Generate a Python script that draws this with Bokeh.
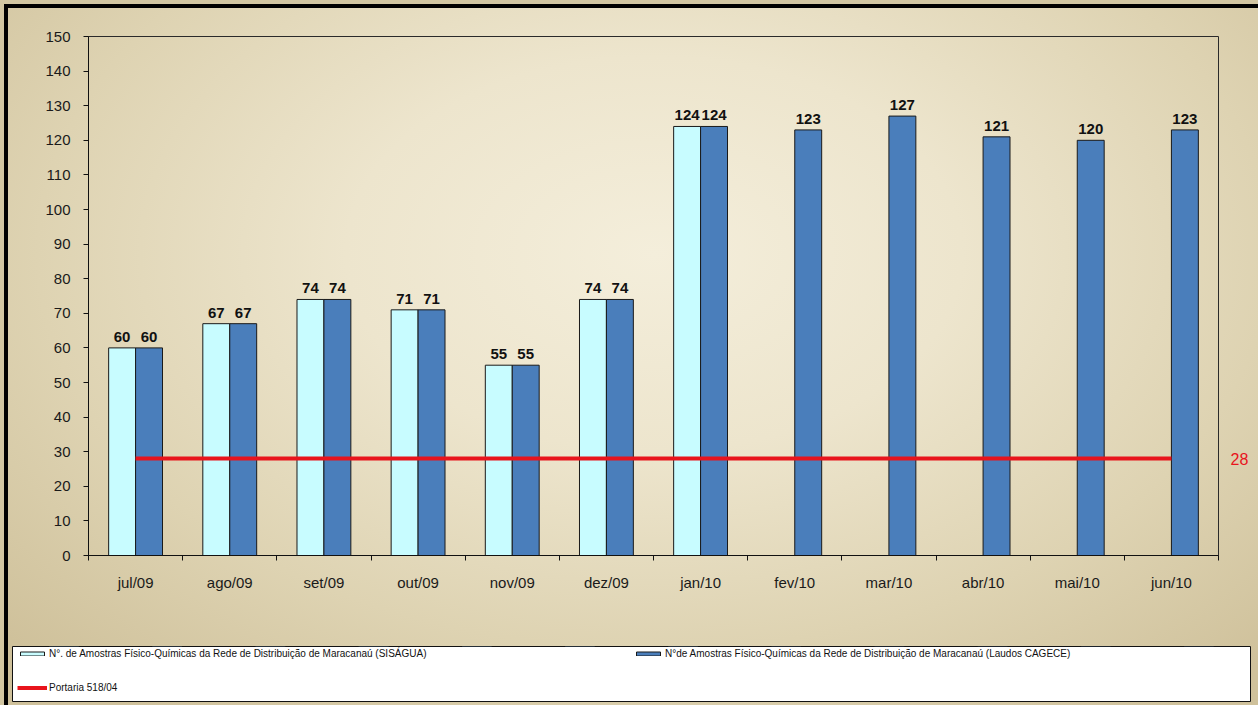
from bokeh.plotting import figure
from bokeh.layouts import column
from bokeh.models import (ColumnDataSource, FixedTicker, Legend, LegendItem, LinearAxis,
                          Range1d, SingleIntervalTicker)
from bokeh.transform import dodge
from bokeh.embed import file_html
from bokeh.resources import INLINE
from bokeh.core.properties import value

months = ["jul/09", "ago/09", "set/09", "out/09", "nov/09", "dez/09",
          "jan/10", "fev/10", "mar/10", "abr/10", "mai/10", "jun/10"]
sisagua = [60, 67, 74, 71, 55, 74, 124, None, None, None, None, None]
cagece = [60, 67, 74, 71, 55, 74, 124, 123, 127, 121, 120, 123]
portaria = [28, 28, 28, 28, 28, 28, 28, 28, 28, 28, 28, 28]

name_sisagua = "N°. de Amostras Físico-Químicas da Rede de Distribuição de Maracanaú (SISÁGUA)"
name_cagece = "N°de Amostras Físico-Químicas da Rede de Distribuição de Maracanaú (Laudos CAGECE)"
name_portaria = "Portaria 518/04"

CYAN = "#C8FCFF"
BLUE = "#4A7EBB"
RED = "#E8141C"
EDGE = "#1a1a1a"
FONT = "Liberation Sans"

centers = [i + 0.5 for i in range(len(months))]
src_s = ColumnDataSource(dict(
    x=[c for c, v in zip(centers, sisagua) if v is not None],
    v=[v for v in sisagua if v is not None],
    t=[str(v) for v in sisagua if v is not None]))
src_c = ColumnDataSource(dict(x=centers, v=cagece, t=[str(v) for v in cagece]))
src_p = ColumnDataSource(dict(x=centers, v=portaria))

W = 0.286

# ---------------- main chart ----------------
p = figure(width=1258, height=640, x_range=Range1d(0, len(months)), y_range=Range1d(0, 150),
           output_backend="svg", toolbar_location=None,
           min_border_left=88, min_border_right=40, min_border_top=36, min_border_bottom=85,
           background_fill_color=None, border_fill_color=None,
           outline_line_color="#2a2a2a", outline_line_width=1)
p.frame_align = False
p.grid.visible = False

p.vbar(x=dodge("x", -W / 2), top="v", width=W, bottom=0, source=src_s,
       fill_color=CYAN, line_color=EDGE, line_width=1)
p.vbar(x=dodge("x", W / 2), top="v", width=W, bottom=0, source=src_c,
       fill_color=BLUE, line_color=EDGE, line_width=1)
p.line(x="x", y="v", source=src_p, line_color=RED, line_width=4)

for src, off in ((src_s, -W / 2), (src_c, W / 2)):
    p.text(x=dodge("x", off), y="v", text="t", source=src, y_offset=-11,
           text_align="center", text_baseline="alphabetic",
           text_font=value(FONT), text_font_style="bold", text_font_size="15px",
           text_color="#111111")

xa = p.xaxis[0]
xa.ticker = FixedTicker(ticks=centers, minor_ticks=list(range(len(months) + 1)))
xa.major_label_overrides = {c: m for c, m in zip(centers, months)}
xa.major_tick_out = 0
xa.major_tick_in = 0
xa.minor_tick_out = 5
xa.minor_tick_in = 0
xa.minor_tick_line_color = "#111111"
xa.axis_line_color = "#111111"
xa.major_label_text_font = FONT
xa.major_label_text_font_size = "15px"
xa.major_label_text_color = "#1a1a1a"
xa.major_label_standoff = 13

ya = p.yaxis[0]
ya.ticker = SingleIntervalTicker(interval=10, num_minor_ticks=0)
ya.major_tick_out = 5
ya.major_tick_in = 0
ya.minor_tick_out = 0
ya.minor_tick_in = 0
ya.major_tick_line_color = "#111111"
ya.axis_line_color = "#111111"
ya.major_label_text_font = FONT
ya.major_label_text_font_size = "15px"
ya.major_label_text_color = "#1a1a1a"
ya.major_label_standoff = 13

ra = LinearAxis(ticker=FixedTicker(ticks=[portaria[-1]]), axis_line_color=None,
                major_tick_line_color=None, minor_tick_line_color=None,
                major_label_text_color=RED, major_label_text_font=FONT,
                major_label_text_font_size="16px", major_label_standoff=6)
p.add_layout(ra, "right")

# ---------------- legend box (same series, ranges keep the marks out of view) ----------------
q = figure(width=1258, height=65, x_range=Range1d(0, len(months)), y_range=Range1d(-2, -1),
           output_backend="svg", toolbar_location=None,
           x_axis_type=None, y_axis_type=None,
           min_border_left=12, min_border_right=8, min_border_top=6, min_border_bottom=4,
           background_fill_color="white", border_fill_color=None,
           outline_line_color="#111111", outline_line_width=1)
q.frame_align = False
q.grid.visible = False
l_s = q.vbar(x="x", top="v", width=W, bottom=0, source=src_s,
             fill_color=CYAN, line_color=EDGE, line_width=1)
l_c = q.vbar(x="x", top="v", width=W, bottom=0, source=src_c,
             fill_color=BLUE, line_color=EDGE, line_width=1)
l_p = q.line(x="x", y="v", source=src_p, line_color=RED, line_width=4)

legend = Legend(items=[LegendItem(label=name_sisagua, renderers=[l_s]),
                       LegendItem(label=name_cagece, renderers=[l_c]),
                       LegendItem(label=name_portaria, renderers=[l_p])],
                location=(5, 8), orientation="horizontal", ncols=2,
                glyph_width=30, glyph_height=5, label_height=5, label_width=561,
                label_standoff=2, spacing=23, padding=0, margin=0,
                border_line_color=None, background_fill_alpha=0,
                label_text_font=FONT, label_text_font_size="10px",
                label_text_color="#111111", label_text_baseline="middle")
q.add_layout(legend)

layout = column(p, q, spacing=0)
layout.styles = {
    "background": "radial-gradient(ellipse 70% 80% at 52% 36%, #F4EEDB 0%, #EDE5CD 35%, #DED3B2 70%, #CFC19B 100%)",
    "box-shadow": "inset 4px 4px 0 0 #D2C6A2, inset 8px 8px 0 0 #000000",
}

open("out.html", "w").write(file_html(layout, INLINE))
